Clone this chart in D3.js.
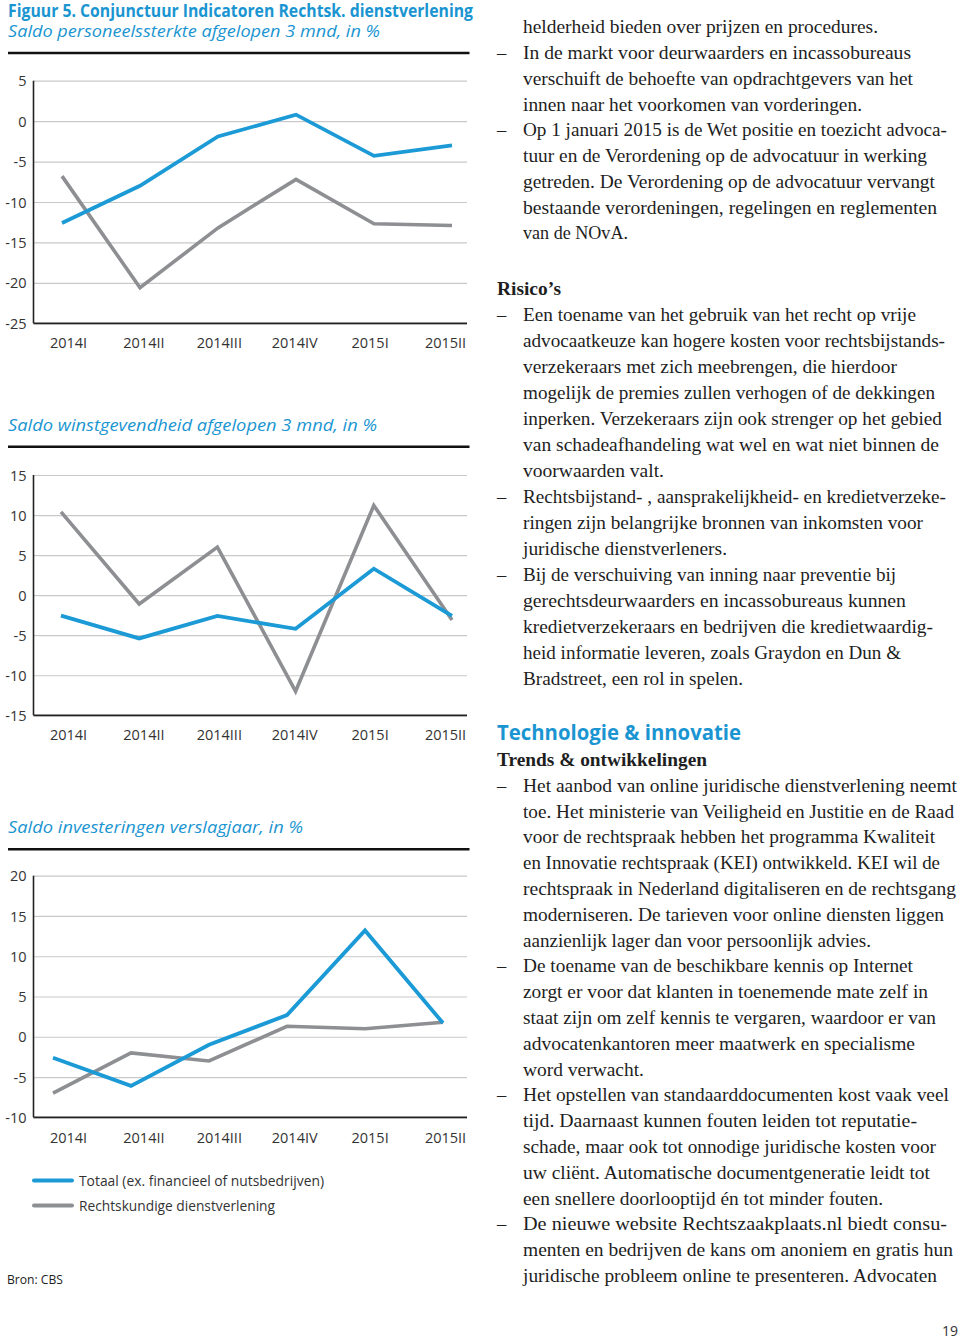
<!DOCTYPE html>
<html><head><meta charset="utf-8">
<script src="https://cdn.jsdelivr.net/npm/d3@7/dist/d3.min.js"></script>
<style>
html,body{margin:0;padding:0;background:#fff;}
svg{display:block;}
</style></head>
<body>
<svg id="page" width="960" height="1341"></svg>
<script>
// ---------- DATA ----------
const categories = ["2014I","2014II","2014III","2014IV","2015I","2015II"];
const seriesNames = ["Totaal (ex. financieel of nutsbedrijven)","Rechtskundige dienstverlening"];
const staffTotal  = [-12.6, -8.0, -1.9, 0.8, -4.3, -3.0];
const staffLegal  = [-6.8, -20.6, -13.2, -7.2, -12.7, -12.9];
const profitTotal = [-2.55, -5.4, -2.6, -4.2, 3.3, -2.6];
const profitLegal = [10.4, -1.1, 6.0, -12.0, 11.2, -3.1];
const investTotal = [-2.6, -6.1, -1.0, 2.7, 13.2, 1.7];
const investLegal = [-7.0, -2.0, -3.0, 1.3, 1.0, 1.8];
const staffTicks  = [-25,-20,-15,-10,-5,0,5];
const profitTicks = [-15,-10,-5,0,5,10,15];
const investTicks = [-10,-5,0,5,10,15,20];

const figTitle = "Figuur 5. Conjunctuur Indicatoren Rechtsk. dienstverlening";
const chartTitles = ["Saldo personeelssterkte afgelopen 3 mnd, in %",
                     "Saldo winstgevendheid afgelopen 3 mnd, in %",
                     "Saldo investeringen verslagjaar, in %"];
const source = "Bron: CBS";

// Right column text
const textBlock1 = [
 ["helderheid bieden over prijzen en procedures.", false],
 ["In de markt voor deurwaarders en incassobureaus", true],
 ["verschuift de behoefte van opdrachtgevers van het", false],
 ["innen naar het voorkomen van vorderingen.", false],
 ["Op 1 januari 2015 is de Wet positie en toezicht advoca-", true],
 ["tuur en de Verordening op de advocatuur in werking", false],
 ["getreden. De Verordening op de advocatuur vervangt", false],
 ["bestaande verordeningen, regelingen en reglementen", false],
 ["van de NOvA.", false]
];
const heading2 = "Risico’s";
const textBlock2 = [
 ["Een toename van het gebruik van het recht op vrije", true],
 ["advocaatkeuze kan hogere kosten voor rechtsbijstands-", false],
 ["verzekeraars met zich meebrengen, die hierdoor", false],
 ["mogelijk de premies zullen verhogen of de dekkingen", false],
 ["inperken. Verzekeraars zijn ook strenger op het gebied", false],
 ["van schadeafhandeling wat wel en wat niet binnen de", false],
 ["voorwaarden valt.", false],
 ["Rechtsbijstand- , aansprakelijkheid- en kredietverzeke-", true],
 ["ringen zijn belangrijke bronnen van inkomsten voor", false],
 ["juridische dienstverleners.", false],
 ["Bij de verschuiving van inning naar preventie bij", true],
 ["gerechtsdeurwaarders en incassobureaus kunnen", false],
 ["kredietverzekeraars en bedrijven die kredietwaardig-", false],
 ["heid informatie leveren, zoals Graydon en Dun &", false],
 ["Bradstreet, een rol in spelen.", false]
];
const heading3a = "Technologie & innovatie";
const heading3b = "Trends & ontwikkelingen";
const textBlock3 = [
 ["Het aanbod van online juridische dienstverlening neemt", true],
 ["toe. Het ministerie van Veiligheid en Justitie en de Raad", false],
 ["voor de rechtspraak hebben het programma Kwaliteit", false],
 ["en Innovatie rechtspraak (KEI) ontwikkeld. KEI wil de", false],
 ["rechtspraak in Nederland digitaliseren en de rechtsgang", false],
 ["moderniseren. De tarieven voor online diensten liggen", false],
 ["aanzienlijk lager dan voor persoonlijk advies.", false],
 ["De toename van de beschikbare kennis op Internet", true],
 ["zorgt er voor dat klanten in toenemende mate zelf in", false],
 ["staat zijn om zelf kennis te vergaren, waardoor er van", false],
 ["advocatenkantoren meer maatwerk en specialisme", false],
 ["word verwacht.", false],
 ["Het opstellen van standaarddocumenten kost vaak veel", true],
 ["tijd. Daarnaast kunnen fouten leiden tot reputatie-", false],
 ["schade, maar ook tot onnodige juridische kosten voor", false],
 ["uw cliënt. Automatische documentgeneratie leidt tot", false],
 ["een snellere doorlooptijd én tot minder fouten.", false],
 ["De nieuwe website Rechtszaakplaats.nl biedt consu-", true],
 ["menten en bedrijven de kans om anoniem en gratis hun", false],
 ["juridische probleem online te presenteren. Advocaten", false]
];
const pageNumber = "19";

// ---------- LAYOUT (positions, not data) ----------
const lineEnds1 = [878,911,913,862,947,927,935,937,628];
const lineEnds2 = [916,945,897,935,942,939,664,946,923,727,896,906,933,901,743];
const lineEnds3 = [957,954,935,940,956,944,871,913,928,936,915,644,949,917,936,930,883,947,953,937];

const BLUE = "#1b9ad6", GRAY = "#8e8f93", TBLUE = "#1a95d1", TXT = "#1e1e1e";
const SANS = "'Open Sans', sans-serif";
const SERIF = "'Liberation Serif', 'DejaVu Serif', serif";

const svg = d3.select("#page");

// Figure title
svg.append("text").attr("x", 8).attr("y", 16.5)
  .attr("font-family", SANS).attr("font-weight", 700).attr("font-size", 17)
  .attr("fill", TBLUE).attr("textLength", 465).attr("lengthAdjust", "spacingAndGlyphs")
  .text(figTitle);

const charts = [
  {title: chartTitles[0], titleY: 36.5, titleW: 372, ruleY: 53, total: staffTotal, legal: staffLegal,
   ticks: staffTicks, domain: [-25,5], yRange: [323.3, 80.7], xRange: [62, 452], labelY: 348.3},
  {title: chartTitles[1], titleY: 430.5, titleW: 369, ruleY: 446.7, total: profitTotal, legal: profitLegal,
   ticks: profitTicks, domain: [-15,15], yRange: [715.3, 475], xRange: [61, 452], labelY: 740},
  {title: chartTitles[2], titleY: 832.5, titleW: 295, ruleY: 849.3, total: investTotal, legal: investLegal,
   ticks: investTicks, domain: [-10,20], yRange: [1117.3, 875.7], xRange: [53, 443], labelY: 1142.7}
];

const plotLeft = 33.5, plotRight = 467;
const labelScale = d3.scalePoint().domain(categories).range([68, 445]);

charts.forEach(c => {
  const g = svg.append("g");
  // subtitle
  g.append("text").attr("x", 8).attr("y", c.titleY)
    .attr("font-family", SANS).attr("font-style", "italic").attr("font-size", 17)
    .attr("fill", TBLUE).attr("textLength", c.titleW).attr("lengthAdjust", "spacingAndGlyphs")
    .text(c.title);
  // black rule
  g.append("line").attr("x1", 8).attr("x2", 469.5).attr("y1", c.ruleY).attr("y2", c.ruleY)
    .attr("stroke", "#111").attr("stroke-width", 2.4);

  const y = d3.scaleLinear().domain(c.domain).range(c.yRange);
  const x = d3.scalePoint().domain(categories).range(c.xRange);

  // gridlines + y tick labels
  const yAxis = d3.axisLeft(y).tickValues(c.ticks).tickSize(-(plotRight - plotLeft)).tickPadding(8)
    .tickFormat(d => String(d));
  const ya = g.append("g").attr("transform", `translate(${plotLeft},0)`).call(yAxis);
  ya.select(".domain").remove();
  ya.selectAll(".tick line").attr("stroke", "#c9c9c9").attr("stroke-width", 1.2);
  ya.selectAll(".tick text").attr("font-family", SANS).attr("font-size", 14.5)
    .attr("fill", "#333").attr("x", -7).attr("dy", "0.35em");

  // axis lines
  g.append("line").attr("x1", plotLeft).attr("x2", plotLeft)
    .attr("y1", y(c.domain[1])).attr("y2", y(c.domain[0]))
    .attr("stroke", "#222").attr("stroke-width", 1.6);
  g.append("line").attr("x1", plotLeft).attr("x2", plotRight)
    .attr("y1", y(c.domain[0])).attr("y2", y(c.domain[0]))
    .attr("stroke", "#222").attr("stroke-width", 1.8);

  // x labels
  const xAxis = d3.axisBottom(labelScale).tickSize(0).tickPadding(0);
  const xa = g.append("g").attr("transform", `translate(0,${c.labelY})`).call(xAxis);
  xa.select(".domain").remove();
  xa.selectAll(".tick text").attr("font-family", SANS).attr("font-size", 14.5)
    .attr("fill", "#333").attr("dy", 0).attr("y", 0);

  const line = d3.line().x((d, i) => x(categories[i])).y(d => y(d));
  g.append("path").datum(c.legal).attr("d", line).attr("fill", "none")
    .attr("stroke", GRAY).attr("stroke-width", 3.6).attr("stroke-linejoin", "miter");
  g.append("path").datum(c.total).attr("d", line).attr("fill", "none")
    .attr("stroke", BLUE).attr("stroke-width", 3.8).attr("stroke-linejoin", "miter");
});

// legend
const legendColors = [BLUE, GRAY];
const legendWidths = [245, 196];
seriesNames.forEach((n, i) => {
  const yy = 1180.5 + i * 25;
  svg.append("line").attr("x1", 34).attr("x2", 72).attr("y1", yy).attr("y2", yy)
    .attr("stroke", legendColors[i]).attr("stroke-width", 4).attr("stroke-linecap", "round");
  svg.append("text").attr("x", 79).attr("y", yy + 5.5)
    .attr("font-family", SANS).attr("font-size", 14.5).attr("fill", "#333")
    .attr("textLength", legendWidths[i]).attr("lengthAdjust", "spacingAndGlyphs").text(n);
});
svg.append("text").attr("x", 7).attr("y", 1284)
  .attr("font-family", SANS).attr("font-size", 13.5).attr("fill", "#222")
  .attr("textLength", 56).attr("lengthAdjust", "spacingAndGlyphs").text(source);

// right column
function block(lines, ends, y0, step) {
  lines.forEach((l, i) => {
    const yy = y0 + i * step;
    if (l[1]) svg.append("text").attr("x", 497).attr("y", yy)
      .attr("font-family", SERIF).attr("font-size", 18.5).attr("fill", TXT).text("–");
    svg.append("text").attr("x", 523).attr("y", yy)
      .attr("font-family", SERIF).attr("font-size", 18.8).attr("fill", TXT)
      .attr("textLength", ends[i] - 523).attr("lengthAdjust", "spacingAndGlyphs").text(l[0]);
  });
}
block(textBlock1, lineEnds1, 33.3, 25.75);
svg.append("text").attr("x", 497).attr("y", 294.5)
  .attr("font-family", SERIF).attr("font-weight", 700).attr("font-size", 18.5).attr("fill", TXT)
  .attr("textLength", 64).attr("lengthAdjust", "spacingAndGlyphs").text(heading2);
block(textBlock2, lineEnds2, 320.6, 26.05);
svg.append("text").attr("x", 497).attr("y", 739.5)
  .attr("font-family", SANS).attr("font-weight", 700).attr("font-size", 20.5).attr("fill", TBLUE)
  .attr("textLength", 244).attr("lengthAdjust", "spacingAndGlyphs").text(heading3a);
svg.append("text").attr("x", 497).attr("y", 765.5)
  .attr("font-family", SERIF).attr("font-weight", 700).attr("font-size", 18.5).attr("fill", TXT)
  .attr("textLength", 210).attr("lengthAdjust", "spacingAndGlyphs").text(heading3b);
block(textBlock3, lineEnds3, 791.7, 25.8);

svg.append("text").attr("x", 958).attr("y", 1336).attr("text-anchor", "end")
  .attr("font-family", SANS).attr("font-size", 14).attr("fill", "#333").text(pageNumber);
</script>
</body></html>
